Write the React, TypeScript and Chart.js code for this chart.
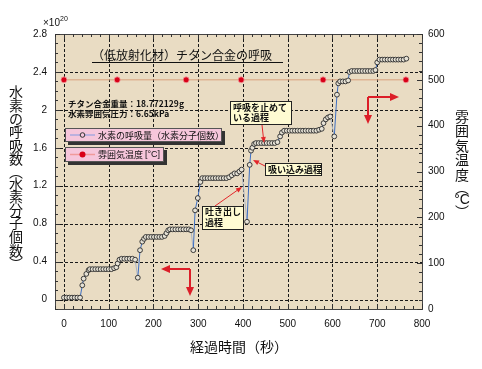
import React, { useEffect, useRef } from 'react';
import { Chart, registerables } from 'chart.js';

Chart.register(...registerables);

// ---- data ----
const timeH = [
  0, 6, 12, 18, 24, 30, 36,
  41, 44, 50, 55,
  58, 64, 70, 76, 82, 88, 94, 100, 106, 112, 117,
  120, 124, 129, 135, 141, 147, 153, 159,
  165,
  170, 175, 179, 183, 189, 195, 201, 207, 213, 219, 225,
  229, 233, 237, 243, 249, 255, 261, 267, 273, 279, 284,
  289,
  293, 299, 305, 309, 315, 321, 327, 333, 339, 345, 351, 357, 363, 369,
  375, 381, 387, 392, 397,
  409,
  415, 418, 421, 425, 429, 435, 441, 447, 453, 459, 465, 471, 477,
  483, 487, 492, 498, 504, 510, 516, 522, 528, 534, 540, 546, 552, 558, 564, 570, 576,
  580, 585, 590, 595,
  604,
  610, 613, 617, 623, 629, 635,
  638, 643, 649, 655, 661, 667, 673, 679, 685, 691, 696,
  700, 705, 711, 717, 723, 729, 735, 741, 747, 753, 759, 765,
];
const valH = [
  0.02, 0.02, 0.02, 0.02, 0.02, 0.02, 0.02,
  0.15, 0.22, 0.27, 0.31,
  0.32, 0.32, 0.32, 0.32, 0.32, 0.32, 0.32, 0.32, 0.32, 0.33, 0.34,
  0.38, 0.42, 0.43, 0.43, 0.43, 0.43, 0.43, 0.42,
  0.23,
  0.52, 0.61, 0.64, 0.66, 0.66, 0.66, 0.66, 0.66, 0.66, 0.66, 0.67,
  0.70, 0.73, 0.74, 0.74, 0.74, 0.74, 0.74, 0.74, 0.74, 0.74, 0.73,
  0.52,
  0.94, 1.07, 1.24, 1.28, 1.28, 1.28, 1.28, 1.28, 1.28, 1.28, 1.28, 1.28, 1.28, 1.29,
  1.31, 1.33, 1.33, 1.35, 1.37,
  0.82,
  1.42, 1.57, 1.60, 1.64, 1.65, 1.65, 1.65, 1.65, 1.65, 1.65, 1.65, 1.65, 1.66,
  1.72, 1.76, 1.78, 1.78, 1.78, 1.78, 1.78, 1.78, 1.78, 1.78, 1.78, 1.78, 1.78, 1.78, 1.78, 1.79, 1.80,
  1.86, 1.90, 1.92, 1.93,
  1.72,
  2.16, 2.28, 2.30, 2.30, 2.30, 2.31,
  2.40, 2.41, 2.41, 2.41, 2.41, 2.41, 2.41, 2.41, 2.41, 2.41, 2.42,
  2.50, 2.53, 2.53, 2.53, 2.53, 2.53, 2.53, 2.53, 2.53, 2.53, 2.53, 2.54,
];
const timeT = [0, 119, 273, 396, 579, 764];
const valT = [500, 500, 500, 500, 500, 500];

const xTicks = [0, 100, 200, 300, 400, 500, 600, 700, 800];
const xGrid = [0, 100, 200, 300, 400, 500, 600, 700];
const yLeftTicks = [0, 0.4, 0.8, 1.2, 1.6, 2, 2.4, 2.8];
const yLeftLabels = ['0', '0.4', '0.8', '1.2', '1.6', '2', '2.4', '2.8'];
const yGrid = [0, 0.4, 0.8, 1.2, 1.6, 2, 2.4];
const yRightTicks = [0, 100, 200, 300, 400, 500, 600];

const labelH = '水素の呼吸量（水素分子個数）';
const labelT = '雰囲気温度';
const labelTUnit = '[°C]';
const titleText = '（低放射化材）チタン合金の呼吸';
const infoLines = ['チタン合金重量：18.772129g', '水素雰囲気圧力：6.65kPa'];
const xTitle = '経過時間（秒）';
const yLeftTitle = ['水', '素', 'の', '呼', '吸', '数', '︵', '水', '素', '分', '子', '個', '数', '︶'];
const yRightTitle = ['雰', '囲', '気', '温', '度', '︵', '°C', '︶'];

const JP = '"Noto Sans CJK JP", sans-serif';
const NUM = '"Liberation Sans", Arial, sans-serif';

function arrow(ctx: CanvasRenderingContext2D, x1: number, y1: number, x2: number, y2: number, len: number, half: number, lw: number, color: string) {
  const ang = Math.atan2(y2 - y1, x2 - x1);
  const bx = x2 - Math.cos(ang) * len;
  const by = y2 - Math.sin(ang) * len;
  ctx.strokeStyle = color;
  ctx.lineWidth = lw;
  ctx.beginPath();
  ctx.moveTo(x1, y1);
  ctx.lineTo(bx, by);
  ctx.stroke();
  ctx.fillStyle = color;
  ctx.beginPath();
  ctx.moveTo(x2, y2);
  ctx.lineTo(bx + Math.sin(ang) * half, by - Math.cos(ang) * half);
  ctx.lineTo(bx - Math.sin(ang) * half, by + Math.cos(ang) * half);
  ctx.closePath();
  ctx.fill();
}

function callout(ctx: CanvasRenderingContext2D, x: number, y: number, w: number, h: number, lines: string[], tx: number, ty: number[]) {
  ctx.fillStyle = '#fffbd2';
  ctx.fillRect(x, y, w, h);
  ctx.strokeStyle = '#222';
  ctx.lineWidth = 1;
  ctx.strokeRect(x + 0.5, y + 0.5, w, h);
  ctx.fillStyle = '#111';
  ctx.font = `bold 9px ${JP}`;
  ctx.textAlign = 'left';
  ctx.textBaseline = 'middle';
  lines.forEach((l, i) => ctx.fillText(l, tx, ty[i]));
}

const decor = {
  id: 'decor',
  beforeDraw(chart: any) {
    const { ctx, chartArea: a, scales } = chart;
    const sx = scales.x, sy = scales.y;
    ctx.save();
    ctx.fillStyle = '#ffffff';
    ctx.fillRect(0, 0, chart.width, chart.height);
    ctx.fillStyle = '#e9dcc3';
    ctx.fillRect(a.left, a.top, a.right - a.left, a.bottom - a.top);
    ctx.strokeStyle = '#1a1a1a';
    ctx.lineWidth = 1;
    ctx.setLineDash([3, 2]);
    for (const t of xGrid) {
      const px = Math.round(sx.getPixelForValue(t)) + 0.5;
      ctx.beginPath(); ctx.moveTo(px, a.top); ctx.lineTo(px, a.bottom); ctx.stroke();
    }
    for (const v of yGrid) {
      const py = Math.round(sy.getPixelForValue(v)) + 0.5;
      ctx.beginPath(); ctx.moveTo(a.left, py); ctx.lineTo(a.right, py); ctx.stroke();
    }
    ctx.setLineDash([]);
    ctx.restore();
  },
  afterDatasetsDraw(chart: any) {
    const { ctx, chartArea: a, scales } = chart;
    const sx = scales.x, sy = scales.y, sr = scales.y2;
    ctx.save();
    // frame
    ctx.strokeStyle = '#444';
    ctx.lineWidth = 1;
    ctx.strokeRect(Math.round(a.left) + 0.5, Math.round(a.top) + 0.5, Math.round(a.right - a.left), Math.round(a.bottom - a.top));
    // minor / major ticks (inward)
    ctx.strokeStyle = '#333';
    ctx.beginPath();
    for (let t = -20; t <= 800; t += 20) {
      const px = Math.round(sx.getPixelForValue(t)) + 0.5;
      const len = t % 100 === 0 ? 5 : 3;
      ctx.moveTo(px, a.bottom); ctx.lineTo(px, a.bottom - len);
      ctx.moveTo(px, a.top); ctx.lineTo(px, a.top + len);
    }
    for (let k = -1; k <= 28; k++) {
      const v = k / 10;
      const py = Math.round(sy.getPixelForValue(v)) + 0.5;
      const len = k % 4 === 0 ? 5 : 3;
      ctx.moveTo(a.left, py); ctx.lineTo(a.left + len, py);
    }
    for (let v = 0; v <= 600; v += 20) {
      const py = Math.round(sr.getPixelForValue(v)) + 0.5;
      const len = v % 100 === 0 ? 5 : 3;
      ctx.moveTo(a.right, py); ctx.lineTo(a.right - len, py);
    }
    ctx.stroke();

    // tick labels
    ctx.fillStyle = '#111';
    ctx.font = `10px ${NUM}`;
    ctx.textBaseline = 'middle';
    ctx.textAlign = 'center';
    for (const t of xTicks) ctx.fillText(String(t), sx.getPixelForValue(t), a.bottom + 15);
    ctx.textAlign = 'right';
    yLeftTicks.forEach((v, i) => ctx.fillText(yLeftLabels[i], a.left - 8, sy.getPixelForValue(v)));
    ctx.textAlign = 'left';
    for (const v of yRightTicks) ctx.fillText(String(v), a.right + 6, sr.getPixelForValue(v));

    // x10^20
    ctx.textAlign = 'left';
    ctx.font = `10px ${NUM}`;
    ctx.fillText('×10', 43, 23);
    ctx.font = `7px ${NUM}`;
    ctx.fillText('20', 60, 19);

    // axis titles
    ctx.font = `14px ${JP}`;
    ctx.textAlign = 'center';
    ctx.fillStyle = '#111';
    ctx.fillText(xTitle, 239, 347);
    const ly = [92, 106, 119, 132, 146, 159, 172, 184, 197, 210, 223, 237, 251, 264];
    yLeftTitle.forEach((c, i) => ctx.fillText(c, 16, ly[i]));
    const ry = [117, 131, 146, 160, 175, 188, 200, 212];
    yRightTitle.forEach((c, i) => {
      ctx.font = c === '°C' ? `14px ${NUM}` : `14px ${JP}`;
      ctx.fillText(c, 462, ry[i]);
    });

    // title
    ctx.font = `12px ${JP}`;
    ctx.textAlign = 'left';
    ctx.fillText(titleText, 92, 55);
    ctx.strokeStyle = '#111';
    ctx.beginPath(); ctx.moveTo(92, 62.5); ctx.lineTo(283, 62.5); ctx.stroke();

    // info text
    ctx.font = `bold 8.5px ${JP}`;
    ctx.fillStyle = '#111';
    ctx.fillText(infoLines[0], 68, 104);
    ctx.fillText(infoLines[1], 68, 114);

    // legend boxes
    ctx.fillStyle = '#333';
    ctx.fillRect(68, 131, 157, 14);
    ctx.fillRect(68, 150, 99, 15);
    ctx.fillStyle = '#f6c6db';
    ctx.fillRect(65, 128, 157, 14);
    ctx.fillRect(65, 147, 99, 15);
    ctx.strokeStyle = '#555';
    ctx.strokeRect(65.5, 128.5, 156, 13);
    ctx.strokeRect(65.5, 147.5, 98, 14);
    ctx.strokeStyle = '#a9a9df';
    ctx.lineWidth = 1.5;
    ctx.beginPath(); ctx.moveTo(70, 135); ctx.lineTo(95, 135); ctx.stroke();
    ctx.fillStyle = '#f6c6db';
    ctx.strokeStyle = '#333';
    ctx.lineWidth = 1;
    ctx.beginPath(); ctx.arc(82.5, 135, 2.3, 0, Math.PI * 2); ctx.fill(); ctx.stroke();
    ctx.strokeStyle = '#f09a9a';
    ctx.lineWidth = 1.5;
    ctx.beginPath(); ctx.moveTo(70, 154.5); ctx.lineTo(95, 154.5); ctx.stroke();
    ctx.fillStyle = '#d80018';
    ctx.beginPath(); ctx.arc(82.5, 154.5, 3, 0, Math.PI * 2); ctx.fill();
    ctx.fillStyle = '#111';
    ctx.font = `9px ${JP}`;
    ctx.textBaseline = 'middle';
    ctx.fillText(labelH, 98, 135.5);
    ctx.fillText(labelT, 98, 155);
    const wT = ctx.measureText(labelT).width;
    ctx.font = `9px ${NUM}`;
    ctx.fillText(labelTUnit, 98 + wT + 2, 155);

    // callouts
    callout(ctx, 230, 101, 61, 23, ['呼吸を止めて', 'いる過程'], 233, [107.5, 118]);
    callout(ctx, 265, 163, 56, 12, ['吸い込み過程'], 268, [169.5]);
    callout(ctx, 202, 206, 41, 23, ['吐き出し', '過程'], 205, [212, 223]);
    arrow(ctx, 262, 125, 264, 143, 6, 2.5, 1, '#e3262a');
    arrow(ctx, 265, 166, 253, 160, 6, 2.5, 1, '#e3262a');
    arrow(ctx, 215, 206, 242, 187, 6, 2.5, 1, '#e3262a');

    // direction arrows
    const big = (cx: number, cy: number, hx: number, vy: number) => {
      arrow(ctx, cx, cy, hx, cy, 9, 4, 2, '#dc1e28');
      arrow(ctx, cx, cy, cx, vy, 9, 4, 2, '#dc1e28');
    };
    big(190, 269, 161, 296);
    big(368, 97, 399, 124);

    ctx.restore();
  },
};

export default function App() {
  const ref = useRef<HTMLCanvasElement | null>(null);
  useEffect(() => {
    if (!ref.current) return;
    const chart = new Chart(ref.current, {
      type: 'scatter',
      data: {
        datasets: [
          {
            label: labelH,
            data: timeH.map((t, i) => ({ x: t, y: valH[i] })),
            yAxisID: 'y',
            showLine: true,
            borderColor: '#3d6fc4',
            borderWidth: 1,
            pointRadius: 2.4,
            pointBorderWidth: 0.9,
            pointBorderColor: '#2a2a2a',
            pointBackgroundColor: '#e6e2d6',
            segment: {
              borderColor: (c: any) => (c.p1.parsed.y < c.p0.parsed.y - 0.1 ? '#a9b4c6' : '#3d6fc4'),
            },
            order: 1,
          },
          {
            label: labelT + ' ' + labelTUnit,
            data: timeT.map((t, i) => ({ x: t, y: valT[i] })),
            yAxisID: 'y2',
            showLine: true,
            borderColor: '#d9a07c',
            borderWidth: 1,
            pointRadius: 3,
            pointBorderWidth: 0.8,
            pointBorderColor: '#f3a0a0',
            pointBackgroundColor: '#d80018',
            order: 2,
          },
        ],
      },
      options: {
        animation: false,
        responsive: false,
        devicePixelRatio: 1,
        layout: { padding: { left: 55, top: 34, right: 60, bottom: 60 } },
        plugins: { legend: { display: false }, tooltip: { enabled: false } },
        scales: {
          x: { type: 'linear', min: -20, max: 800, display: false },
          y: { type: 'linear', min: -0.1, max: 2.8, display: false },
          y2: { type: 'linear', min: 0, max: 600, display: false, position: 'right' },
        },
      },
      plugins: [decor],
    } as any);
    return () => chart.destroy();
  }, []);
  return (
    <div style={{ position: 'absolute', left: 0, top: 0, width: 482, height: 369 }}>
      <canvas ref={ref} width={482} height={369} />
    </div>
  );
}
